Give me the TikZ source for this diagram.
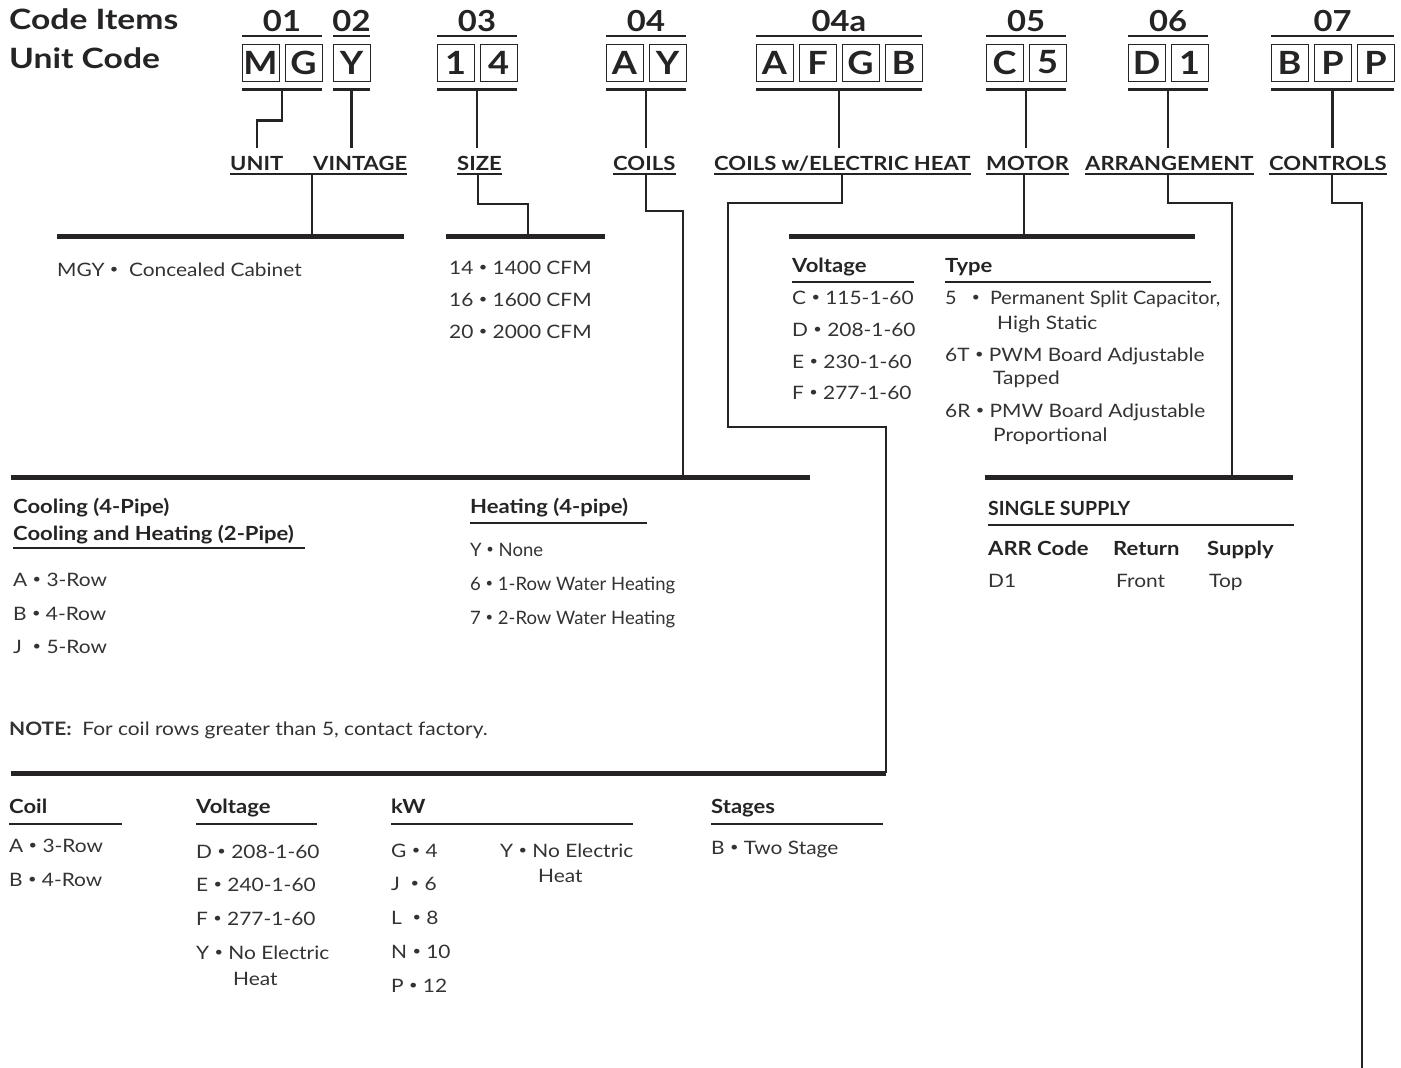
\documentclass[tikz,border=0pt]{standalone}
\usepackage{fontspec}
\setmainfont{Lato}[FakeStretch=1.13]
\newfontfamily\titlefont{Lato}[FakeStretch=1.2]
\newfontfamily\midfont{Lato}[FakeStretch=1.07]
\newfontfamily\narrowfont{Lato}
\definecolor{ink}{RGB}{38,35,36}
\definecolor{txt}{RGB}{52,50,51}
\newcommand\bul{\raisebox{.25ex}{\scalebox{.7}{•}}}

\begin{document}
\begin{tikzpicture}[x=1pt, y=-1pt,
    every node/.style={text=ink},
    codebox/.style={draw=ink, line width=1pt, minimum size=37pt, inner sep=0pt, font=\fontsize{32}{32}\selectfont\bfseries},
    num/.style={anchor=base, inner sep=0pt, font=\fontsize{29}{29}\selectfont\bfseries},
    title/.style={anchor=base west, inner sep=0pt, font=\fontsize{28}{28}\titlefont\bfseries},
    lbl/.style={anchor=base west, inner xsep=0pt, inner ysep=8pt, text height=14pt, text depth=3pt, font=\fontsize{19.5}{20}\selectfont\bfseries},
    item/.style={anchor=base west, inner sep=0pt, text=txt, font=\fontsize{18.5}{20}\selectfont},
    nitem/.style={item, font=\fontsize{18.5}{20}\narrowfont},
    hd/.style={item, text=ink, font=\fontsize{19.5}{20}\selectfont\bfseries},
    bar/.style={draw=ink, line width=2.7pt},
    heavy/.style={draw=ink, line width=5pt},
    wire/.style={draw=ink, line width=2.2pt},
    uline/.style={draw=ink, line width=1.8pt},
    rule/.style={draw=ink, line width=1.3pt}]
    \useasboundingbox (0,0) rectangle (1401,1068);
    \node[title] (ci) at (9,30) {Code Items};
    \node[title] (uc) at (9,68) {Unit Code};
    \foreach \g/\x/\code/\list in {u/242/01/{M,G}, v/333/02/{Y}, s/437/03/{1,4}, c/606/04/{A,Y},
        h/756/04a/{A,F,G,B}, m/986/05/{C,5}, a/1128/06/{D,1}, k/1271/07/{B,P,P}}{
        \foreach \ch [count=\i] in \list {
            \node[codebox] (\g\i) at ({\x+43*\i-24.5},62.5) {\ch};
            \xdef\nb{\i}}
        \pgfmathsetmacro\w{43*\nb-6}
        \draw[bar] (\x,36) -- ++(\w,0) (\x,89.5) -- ++(\w,0);
        \node[num] (n\g) at ({\x+\w/2},31) {\code};
        \coordinate (b\g) at ({\x+\w/2},89.5);
    }
    \node[lbl] (lunit) at (230,170) {UNIT};
    \node[lbl] (lvint) at (313,170) {VINTAGE};
    \node[lbl] (lsize) at (457,170) {SIZE};
    \node[lbl] (lcoil) at (613,170) {COILS};
    \node[lbl] (lheat) at (714,170) {COILS w/ELECTRIC HEAT};
    \node[lbl] (lmotor) at (986,170) {MOTOR};
    \node[lbl] (larr) at (1085,170) {ARRANGEMENT};
    \node[lbl] (lctrl) at (1269,170) {CONTROLS};
    \draw[uline] ([yshift=-4pt]lunit.base west) -- ([yshift=-4pt]lvint.base east);
    \foreach \l in {lsize, lcoil, lheat, lmotor, larr, lctrl}
        \draw[uline] ([yshift=-4pt]\l.base west) -- ([yshift=-4pt]\l.base east);
    \draw[wire] (bu) -- ++(0,31) -| (lunit.north);
    \draw[wire] (bv) -- (bv |- lvint.north);
    \draw[wire] (bs) -- (bs |- lsize.north);
    \draw[wire] (bc) -- (bc |- lcoil.north);
    \draw[wire] (bh) -- (bh |- lheat.north);
    \draw[wire] (bm) -- (bm |- lmotor.north);
    \draw[wire] (ba) -- (ba |- larr.north);
    \draw[wire] (bk) -- (bk |- lctrl.north);
    \coordinate (ua) at (57,236);  \coordinate (ub) at (404,236);
    \coordinate (sa) at (446,236); \coordinate (sb) at (605,236);
    \coordinate (ca) at (11,477);  \coordinate (cb) at (810,477);
    \coordinate (ma) at (789,236); \coordinate (mb) at (1195,236);
    \coordinate (aa) at (985,477); \coordinate (ab) at (1293,477);
    \coordinate (ha) at (11,773);  \coordinate (hb) at (886,773);
    \foreach \p/\q in {ua/ub, sa/sb, ca/cb, ma/mb, aa/ab, ha/hb}
        \draw[heavy] (\p) -- (\q);
    \coordinate (tu) at (312,174);  \coordinate (uj) at (312,236);
    \coordinate (ts) at (478,174);  \coordinate (sj) at (528,236);
    \coordinate (tc) at (646,174);  \coordinate (cj) at (683,477);
    \coordinate (th) at (842,174);  \coordinate (hj) at (886,773);
    \coordinate (tm) at (1024,174); \coordinate (mj) at (1024,236);
    \coordinate (ta) at (1168,174); \coordinate (aj) at (1232,477);
    \coordinate (tk) at (1332,174); \coordinate (kj) at (1362,1068);
    \draw[wire] (tu) -- (uj);
    \draw[wire] (ts) -- ++(0,30) -| (sj);
    \draw[wire] (tc) -- ++(0,37) -| (cj);
    \draw[wire] (th) -- ++(0,29) -- ++(-114,0) -- ++(0,224) -| (hj);
    \draw[wire] (tm) -- (mj);
    \draw[wire] (ta) -- ++(0,29) -| (aj);
    \draw[wire] (tk) -- ++(0,29) -| (kj);
    \node[item] (mgy) at (57,276) {MGY~\bul~~Concealed Cabinet};
    \node[item] (s14) at (449,274) {14 \bul{} 1400 CFM};
    \node[item] (s16) at (449,306) {16 \bul{} 1600 CFM};
    \node[item] (s20) at (449,338) {20 \bul{} 2000 CFM};
    \node[hd] (mvh) at (792,272) {Voltage};
    \node[hd] (mth) at (945,272) {Type};
    \draw[rule] (792,282) -- (914,282) (945,282) -- (1211,282);
    \node[item] (mvc) at (792,304) {C \bul{} 115-1-60};
    \node[item] (mvd) at (792,336) {D \bul{} 208-1-60};
    \node[item] (mve) at (792,368) {E \bul{} 230-1-60};
    \node[item] (mvf) at (792,399) {F \bul{} 277-1-60};
    \node[item, font=\fontsize{18.5}{20}\midfont] (mt5) at (945,304) {5~~~\bul~~Permanent Split Capacitor,};
    \node[item] (mt5b) at (997,329) {High Static};
    \node[item] (mt6t) at (945,361) {6T \bul{} PWM Board Adjustable};
    \node[item] (mt6tb) at (993,384) {Tapped};
    \node[item] (mt6r) at (945,417) {6R \bul{} PMW Board Adjustable};
    \node[item] (mt6rb) at (993,441) {Proportional};
    \node[hd] (cc1) at (13,513) {Cooling (4-Pipe)};
    \node[hd] (cc2) at (13,540) {Cooling and Heating (2-Pipe)};
    \node[hd] (chh) at (470,513) {Heating (4-pipe)};
    \draw[rule] (13,548) -- (305,548) (470,523) -- (647,523);
    \node[item] (ca3) at (13,586) {A \bul{} 3-Row};
    \node[item] (cb4) at (13,620) {B \bul{} 4-Row};
    \node[item] (cj5) at (13,653) {J~~\bul{} 5-Row};
    \node[nitem] (hy) at (470,556) {Y \bul{} None};
    \node[nitem] (h6) at (470,590) {6 \bul{} 1-Row Water Heating};
    \node[nitem] (h7) at (470,624) {7 \bul{} 2-Row Water Heating};
    \node[item] (note) at (9,735) {\textbf{NOTE:}~~For coil rows greater than 5, contact factory.};
    \node[hd] (ec) at (9,813) {Coil};
    \node[hd] (ev) at (196,813) {Voltage};
    \node[hd] (ek) at (391,813) {kW};
    \node[hd] (es) at (711,813) {Stages};
    \draw[rule] (9,824) -- (122,824) (196,824) -- (317,824) (391,824) -- (633,824) (711,824) -- (883,824);
    \node[item] (eca) at (9,852) {A \bul{} 3-Row};
    \node[item] (ecb) at (9,886) {B \bul{} 4-Row};
    \node[item] (evd) at (196,858) {D \bul{} 208-1-60};
    \node[item] (eve) at (196,891) {E \bul{} 240-1-60};
    \node[item] (evf) at (196,925) {F \bul{} 277-1-60};
    \node[item] (evy) at (196,959) {Y \bul{} No Electric};
    \node[item] (evh) at (233,985) {Heat};
    \node[item] (ekg) at (391,857) {G \bul{} 4};
    \node[item] (ekj) at (391,890) {J~~\bul{} 6};
    \node[item] (ekl) at (391,924) {L~~\bul{} 8};
    \node[item] (ekn) at (391,958) {N \bul{} 10};
    \node[item] (ekp) at (391,992) {P \bul{} 12};
    \node[item] (eky) at (500,857) {Y \bul{} No Electric};
    \node[item] (ekh) at (538,882) {Heat};
    \node[item] (esb) at (711,854) {B \bul{} Two Stage};
    \node[hd, font=\fontsize{19.5}{20}\narrowfont\bfseries] (ss) at (988,515) {SINGLE SUPPLY};
    \draw[rule] (988,525) -- (1294,525);
    \node[hd] (arc) at (988,555) {ARR Code};
    \node[hd] (arn) at (1113,555) {Return};
    \node[hd] (asp) at (1207,555) {Supply};
    \node[item] (ad1) at (988,587) {D1};
    \node[item] (afr) at (1116,587) {Front};
    \node[item] (atp) at (1209,587) {Top};
\end{tikzpicture}
\end{document}
